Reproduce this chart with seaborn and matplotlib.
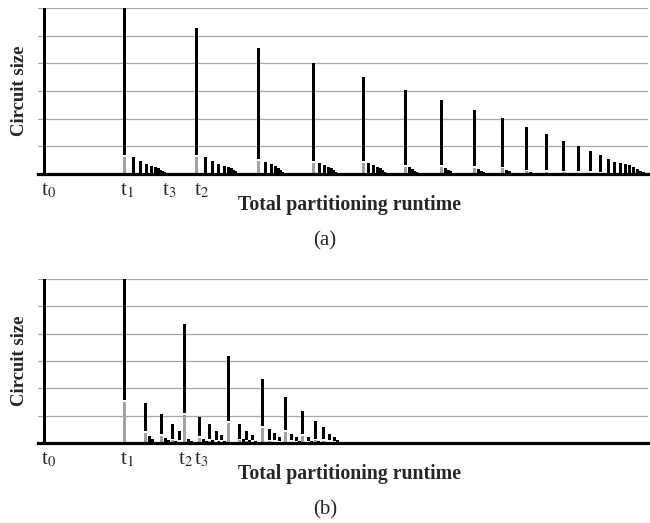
import numpy as np
import pandas as pd
import matplotlib
matplotlib.use("Agg")
import matplotlib.pyplot as plt
import seaborn as sns

# ---------------- data (runtime position, circuit size in grid units) -------------
# Panel (a): main partitioning steps (total size, grey part)
a_main_x = [44, 124, 196, 258, 313, 363, 405, 441, 474, 502, 526, 546, 563, 578, 590, 600,
            608, 614, 620, 625, 629, 633, 637, 640, 643]
a_main_h = [6.0, 6.0, 5.28, 4.55, 4.0, 3.5, 3.04, 2.67, 2.31, 2.02, 1.70, 1.45, 1.20, 1.00,
            0.83, 0.67, 0.54, 0.43, 0.40, 0.36, 0.32, 0.26, 0.19, 0.12, 0.06]
a_main_g = [0.0, 0.61, 0.62, 0.47, 0.40, 0.40, 0.25, 0.25, 0.22, 0.20, 0.10, 0.08, 0.06, 0.05,
            0.04, 0.03, 0, 0, 0, 0, 0, 0, 0, 0, 0]
# Panel (a): sub-partition steps
a_sub_x = [133, 140, 146, 151, 155, 158, 160, 162, 164,
           205, 212, 218, 224, 228, 231, 233, 235, 237,
           265, 271, 275, 278, 280, 282,
           319, 324, 328, 331, 333, 335,
           368, 373, 377, 380, 382, 384,
           409, 412, 414, 416,
           445, 448, 450, 452,
           478, 481, 483,
           506, 509, 511,
           530, 532]
a_sub_h = [0.61, 0.47, 0.36, 0.29, 0.25, 0.20, 0.15, 0.11, 0.06,
           0.61, 0.47, 0.36, 0.29, 0.25, 0.20, 0.15, 0.10, 0.05,
           0.43, 0.36, 0.30, 0.22, 0.15, 0.08,
           0.40, 0.32, 0.27, 0.20, 0.14, 0.08,
           0.40, 0.32, 0.27, 0.20, 0.14, 0.08,
           0.25, 0.18, 0.12, 0.06,
           0.22, 0.15, 0.10, 0.05,
           0.18, 0.12, 0.06,
           0.15, 0.10, 0.05,
           0.08, 0.04]

# Panel (b): main steps (total size, grey part)
b_main_x = [44, 124, 145, 161, 172, 179, 184, 199, 209, 216, 221, 228, 239, 246, 252,
            262, 269, 274, 279, 285, 291, 296, 302, 308, 315, 323, 329, 334]
b_main_h = [6.0, 6.0, 1.46, 1.06, 0.70, 0.44, 4.35, 0.95, 0.70, 0.44, 0.30, 3.18, 0.70, 0.44,
            0.30, 2.34, 0.51, 0.37, 0.22, 1.68, 0.33, 0.22, 1.17, 0.22, 0.80, 0.59, 0.33, 0.22]
b_main_g = [0.0, 1.50, 0.37, 0.26, 0.10, 0.05, 1.02, 0.18, 0.08, 0.05, 0.04, 0.73, 0.10, 0.06,
            0.04, 0.55, 0.06, 0.04, 0.03, 0.40, 0.04, 0.03, 0.26, 0.03, 0.10, 0.08, 0.04, 0.03]
# Panel (b): small sub-steps
b_sub_x = [149, 152, 165, 168, 175, 182, 188, 191, 203, 206, 212, 219, 224,
           243, 249, 255, 258, 265, 283, 299, 311, 318, 326, 337]
b_sub_h = [0.26, 0.15, 0.18, 0.10, 0.07, 0.05, 0.15, 0.07, 0.15, 0.07, 0.10, 0.07, 0.06,
           0.15, 0.10, 0.07, 0.05, 0.05, 0.05, 0.07, 0.07, 0.07, 0.05, 0.10]

# tick labels
a_tick_x = [49, 127, 169, 202]
a_tick_lbl = [r"t$_0$", r"t$_1$", r"t$_3$", r"t$_2$"]
b_tick_x = [49, 127, 186, 201.5]
b_tick_lbl = [r"t$_0$", r"t$_1$", r"t$_2$", r"t$_3$"]

grid_vals = [1, 2, 3, 4, 5, 6]

# ---------------- style ----------------
sns.set_theme(style="white")
plt.rcParams["font.family"] = ["Liberation Serif", "DejaVu Serif"]
plt.rcParams["mathtext.fontset"] = "stix"

GREY = "#a3a3a3"
BAR_W = 3.0
GAP = 0.06


def bars(ax, xs, hs, color):
    xs = np.asarray(xs, float)
    hs = np.asarray(hs, float)
    keep = hs > 0
    xs, hs = xs[keep], hs[keep]
    if len(xs) == 0:
        return
    u = np.unique(xs)
    nw = np.diff(u).min() if len(u) > 1 else 1.0
    df = pd.DataFrame({"x": xs, "h": hs})
    sns.barplot(data=df, x="x", y="h", native_scale=True, width=BAR_W / nw,
                color=color, saturation=1, errorbar=None, linewidth=0, ax=ax)


def panel(ax, mx, mh, mg, sx, sh, tx, tl):
    bars(ax, mx, mh, "black")
    bars(ax, sx, sh, "black")
    g = np.asarray(mg, float)
    bars(ax, mx, np.where(g > 0, g + GAP, 0), "white")
    bars(ax, mx, g, GREY)
    ax.set_xlim(38, 648)
    ax.set_ylim(0, 6)
    ax.set_yticks(grid_vals)
    ax.set_yticklabels([])
    ax.yaxis.grid(True, color="#a8a8a8", linewidth=0.9)
    ax.xaxis.grid(False)
    ax.set_axisbelow(True)
    for s in ["left", "right", "top"]:
        ax.spines[s].set_visible(False)
    ax.spines["bottom"].set_linewidth(2.3)
    ax.spines["bottom"].set_color("black")
    ax.set_xticks(tx)
    ax.set_xticklabels(tl, fontsize=15)
    ax.tick_params(axis="x", length=0, pad=5)
    ax.tick_params(axis="y", length=0)
    ax.set_ylabel("Circuit size", fontsize=13.5, fontweight="bold")
    ax.yaxis.set_label_coords(-0.016, 0.5)
    ax.set_xlabel("Total partitioning runtime", fontsize=14.2, fontweight="bold")
    ax.xaxis.set_label_coords(0.51, -0.125)
    ax.xaxis.label.set_va("top")


fig = plt.figure(figsize=(6.5, 5.23), dpi=100)
ax1 = fig.add_axes([38 / 650, 1 - 174 / 523, 610 / 650, 166 / 523])
ax2 = fig.add_axes([38 / 650, 1 - 443 / 523, 610 / 650, 164 / 523])

panel(ax1, a_main_x, a_main_h, a_main_g, a_sub_x, a_sub_h, a_tick_x, a_tick_lbl)
panel(ax2, b_main_x, b_main_h, b_main_g, b_sub_x, b_sub_h, b_tick_x, b_tick_lbl)

fig.text(325 / 650, 1 - 241 / 523, "(a)", ha="center", va="center", fontsize=15)
fig.text(325 / 650, 1 - 510 / 523, "(b)", ha="center", va="center", fontsize=15)

fig.savefig("out.png", dpi=100)
